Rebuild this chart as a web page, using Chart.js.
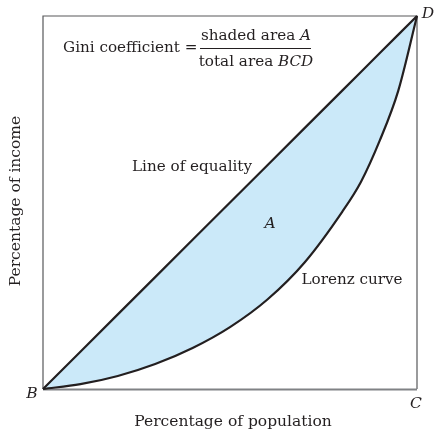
<!DOCTYPE html>
<html>
<head>
<meta charset="utf-8">
<script src="https://cdn.jsdelivr.net/npm/chart.js@4"></script>
<style>
  html, body { margin: 0; padding: 0; background: #fff; }
  #wrap { width: 434px; height: 432px; }
</style>
</head>
<body>
<div id="wrap"><canvas id="gini" width="434" height="432"></canvas></div>
<script>
/* ── Data (percent of population vs percent of income) ── */
const populationPct = [0, 10, 20, 30, 40, 50, 60, 70, 80, 85, 90, 95, 100];
const equalityPct   = [0, 10, 20, 30, 40, 50, 60, 70, 80, 85, 90, 95, 100];
const lorenzPct     = [0, 1.3, 3.5, 6.7, 11, 16.6, 24, 34, 47.5, 55.5, 66.5, 80, 100];

const xTitle = 'Percentage of population';
const yTitle = 'Percentage of income';

/* ── Colours ── */
const INK   = '#231f20';
const FRAME = '#58595b';
const SHADE = '#cbe9f9';
const SERIF = '"DejaVu Serif", serif';

function pts(ys) {
  return populationPct.map((x, i) => ({ x: x, y: ys[i] }));
}

const font = (sz, it) => (it ? 'italic ' : '') + sz + 'px ' + SERIF;

// draw [text, italic] runs centred on cx
function runs(ctx, parts, cx, cy, sz) {
  let w = 0;
  parts.forEach(p => { ctx.font = font(sz, p[1]); w += ctx.measureText(p[0]).width; });
  let x = cx - w / 2;
  ctx.textAlign = 'left';
  parts.forEach(p => {
    ctx.font = font(sz, p[1]);
    ctx.fillText(p[0], x, cy);
    x += ctx.measureText(p[0]).width;
  });
  ctx.textAlign = 'center';
}

/* ── Frame + annotations ── */
const annotate = {
  id: 'annotate',
  beforeDatasetsDraw(chart) {
    const { ctx, chartArea: a } = chart;
    ctx.save();
    ctx.strokeStyle = FRAME;
    ctx.lineWidth = 1.2;
    ctx.beginPath();
    ctx.moveTo(a.left, a.bottom);
    ctx.lineTo(a.left, a.top);
    ctx.lineTo(a.right, a.top);
    ctx.lineTo(a.right, a.bottom);
    ctx.stroke();
    ctx.lineWidth = 2.2;
    ctx.strokeStyle = '#808285';
    ctx.beginPath();
    ctx.moveTo(a.left, a.bottom + 0.5);
    ctx.lineTo(a.right, a.bottom + 0.5);
    ctx.stroke();
    ctx.restore();
  },
  afterDraw(chart) {
    const { ctx } = chart;
    ctx.save();
    ctx.fillStyle = INK;
    ctx.textBaseline = 'middle';
    ctx.textAlign = 'center';

    // formula
    ctx.font = font(15.2);
    ctx.textAlign = 'left';
    ctx.fillText('Gini coefficient =', 63, 48);
    runs(ctx, [['shaded area ', false], ['A', true]], 256, 36, 15.2);
    runs(ctx, [['total area ', false], ['BCD', true]], 256, 62, 15.2);
    ctx.strokeStyle = INK;
    ctx.lineWidth = 1;
    ctx.beginPath();
    ctx.moveTo(200, 48.5);
    ctx.lineTo(311, 48.5);
    ctx.stroke();

    // labels in plot
    ctx.font = font(15.2);
    ctx.fillText('Line of equality', 192, 167);
    ctx.fillText('Lorenz curve', 352, 280);
    ctx.font = font(15.5, true);
    ctx.fillText('A', 270, 224);
    ctx.fillText('B', 32, 394);
    ctx.fillText('C', 416, 404);
    ctx.fillText('D', 428, 14);

    // axis titles
    ctx.font = font(15.5);
    ctx.fillText(xTitle, 233, 422);
    ctx.translate(16, 201);
    ctx.rotate(-Math.PI / 2);
    ctx.fillText(yTitle, 0, 0);
    ctx.restore();
  }
};

new Chart(document.getElementById('gini'), {
  type: 'line',
  data: {
    datasets: [
      {
        label: 'Line of equality',
        data: pts(equalityPct),
        borderColor: INK,
        borderWidth: 2.2,
        pointRadius: 0,
        tension: 0,
        fill: false,
        clip: false
      },
      {
        label: 'Lorenz curve',
        data: pts(lorenzPct),
        borderColor: INK,
        borderWidth: 2.2,
        backgroundColor: SHADE,
        pointRadius: 0,
        cubicInterpolationMode: 'monotone',
        fill: '-1',
        clip: false
      }
    ]
  },
  options: {
    responsive: false,
    animation: false,
    layout: { padding: { left: 43, right: 17, top: 16, bottom: 43 } },
    plugins: {
      legend: { display: false },
      tooltip: { enabled: false },
      filler: { drawTime: 'beforeDatasetsDraw' }
    },
    scales: {
      x: { type: 'linear', min: 0, max: 100, display: false },
      y: { type: 'linear', min: 0, max: 100, display: false }
    }
  },
  plugins: [annotate]
});
</script>
</body>
</html>
